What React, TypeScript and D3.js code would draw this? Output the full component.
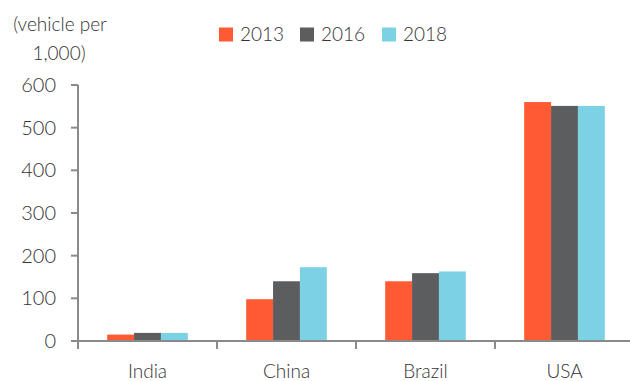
import React from "react";
import * as d3 from "d3";

const categories = ["India", "China", "Brazil", "USA"];
const seriesNames = ["2013", "2016", "2018"];
const values2013 = [15, 98, 140, 560];
const values2016 = [19, 140, 159, 551];
const values2018 = [19, 173, 163, 551];
const yTicks = [0, 100, 200, 300, 400, 500, 600];
const colors = ["#FF5A33", "#5C5D5F", "#7DD1E5"];

const W = 630;
const H = 381;
const FONT = "Lato, 'Open Sans', sans-serif";
const WEIGHT = 300;

export default function App() {
  const seriesValues = [values2013, values2016, values2018];
  const x = d3.scaleBand<string>().domain(categories).range([78, 634]).padding(0);
  const y = d3.scaleLinear().domain([0, 600]).range([341, 85]);
  const groupW = x.bandwidth() * 0.58;
  const xs = d3.scaleBand<string>().domain(seriesNames).range([-groupW / 2, groupW / 2]).padding(0);
  const axisColor = "#8a8a8a";
  const textColor = "#333";

  const legendX = [219, 300, 382];

  return (
    <svg width={W} height={H} style={{ position: "absolute", left: 0, top: 0, background: "#fff" }}>
      {/* unit label */}
      <text x={60} y={31} textAnchor="middle" fontFamily={FONT} fontWeight={WEIGHT} fontSize={19} fill={textColor}>(vehicle per</text>
      <text x={59} y={60} textAnchor="middle" fontFamily={FONT} fontWeight={WEIGHT} fontSize={19} fill={textColor}>1,000)</text>

      {/* legend */}
      {seriesNames.map((s, i) => (
        <g key={s}>
          <rect x={legendX[i]} y={27.5} width={14} height={14} fill={colors[i]} />
          <text x={legendX[i] + 21} y={41} fontFamily={FONT} fontWeight={WEIGHT} fontSize={19} fill={textColor}>{s}</text>
        </g>
      ))}

      {/* bars */}
      {categories.map((c, ci) => (
        <g key={c}>
          {seriesNames.map((s, si) => {
            const v = seriesValues[si][ci];
            const cx = (x(c) as number) + x.bandwidth() / 2;
            return (
              <rect
                key={s}
                x={cx + (xs(s) as number)}
                y={y(v)}
                width={xs.bandwidth()}
                height={y(0) - y(v)}
                fill={colors[si]}
              />
            );
          })}
        </g>
      ))}

      {/* y axis */}
      <line x1={78} x2={78} y1={y(600)} y2={y(0)} stroke={axisColor} strokeWidth={2} />
      {yTicks.map((t) => (
        <g key={t}>
          <line x1={71} x2={78} y1={y(t)} y2={y(t)} stroke={axisColor} strokeWidth={2} />
          <text x={56} y={y(t) + 7} textAnchor="end" fontFamily={FONT} fontWeight={WEIGHT} fontSize={20} fill={textColor}>{t}</text>
        </g>
      ))}

      {/* x axis */}
      <line x1={71} x2={W} y1={y(0)} y2={y(0)} stroke={axisColor} strokeWidth={2} />
      {categories.map((c) => (
        <line key={c} x1={x(c) as number} x2={x(c) as number} y1={y(0)} y2={y(0) + 8} stroke={axisColor} strokeWidth={2} />
      ))}
      {categories.map((c) => (
        <text key={c} x={(x(c) as number) + x.bandwidth() / 2} y={378} textAnchor="middle" fontFamily={FONT} fontWeight={WEIGHT} fontSize={19} fill={textColor}>{c}</text>
      ))}
    </svg>
  );
}
